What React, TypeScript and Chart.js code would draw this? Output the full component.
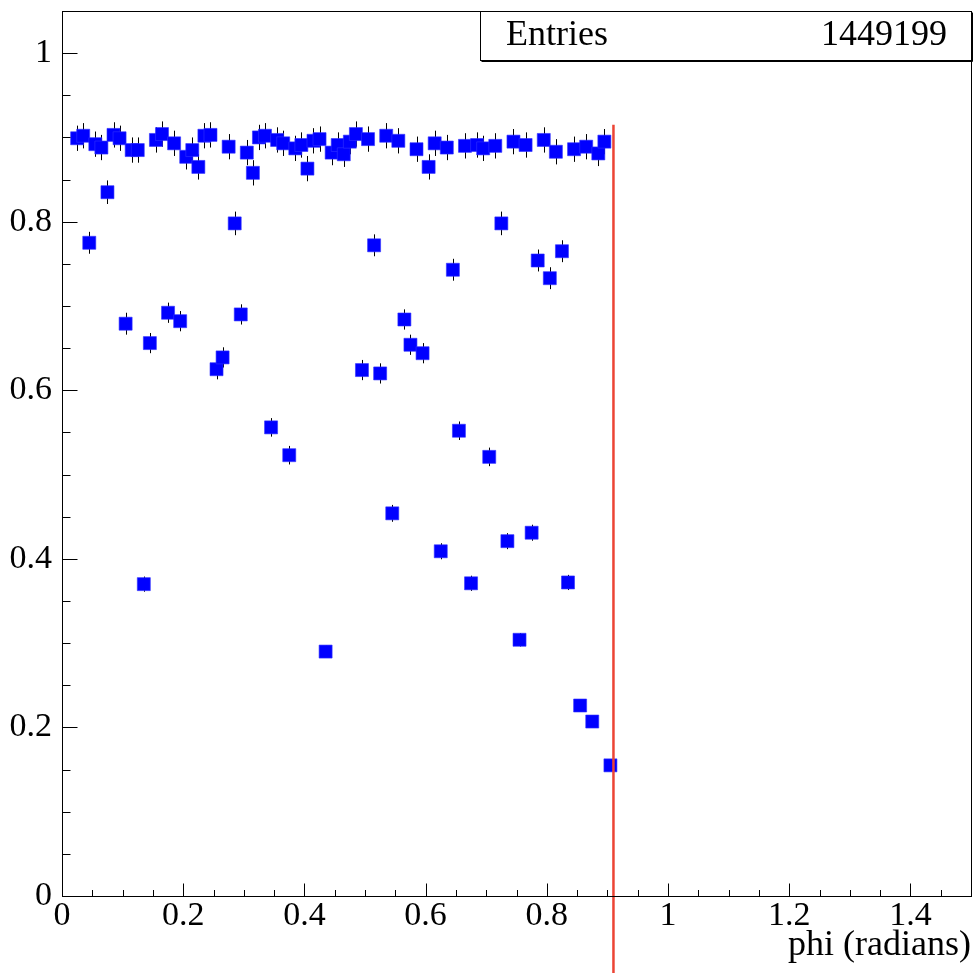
import React, { useEffect, useRef } from 'react';
import { Chart, registerables } from 'chart.js';

Chart.register(...registerables);

// ---- data ----
const phiBins = [
  0.025, 0.035, 0.045, 0.055, 0.065, 0.075, 0.085, 0.095, 0.105, 0.115,
  0.125, 0.135, 0.145, 0.155, 0.165, 0.175, 0.185, 0.195, 0.205, 0.215,
  0.225, 0.235, 0.245, 0.255, 0.265, 0.275, 0.285, 0.295, 0.305, 0.315,
  0.325, 0.335, 0.345, 0.355, 0.365, 0.375, 0.385, 0.395, 0.405, 0.415,
  0.425, 0.435, 0.445, 0.455, 0.465, 0.475, 0.485, 0.495, 0.505, 0.515,
  0.525, 0.535, 0.545, 0.555, 0.565, 0.575, 0.585, 0.595, 0.605, 0.615,
  0.625, 0.635, 0.645, 0.655, 0.665, 0.675, 0.685, 0.695, 0.705, 0.715,
  0.725, 0.735, 0.745, 0.755, 0.765, 0.775, 0.785, 0.795, 0.805, 0.815,
  0.825, 0.835, 0.845, 0.855, 0.865, 0.875, 0.885, 0.895, 0.905,
];

const efficiency = [
  0.899, 0.902, 0.775, 0.892, 0.888, 0.835, 0.903, 0.899, 0.679, 0.885,
  0.885, 0.370, 0.656, 0.897, 0.904, 0.692, 0.893, 0.682, 0.877, 0.885,
  0.865, 0.902, 0.903, 0.625, 0.639, 0.889, 0.798, 0.690, 0.882, 0.858,
  0.900, 0.902, 0.556, 0.897, 0.893, 0.523, 0.887, 0.891, 0.863, 0.896,
  0.898, 0.290, 0.882, 0.891, 0.880, 0.895, 0.904, 0.624, 0.898, 0.772,
  0.620, 0.902, 0.454, 0.896, 0.684, 0.654, 0.886, 0.644, 0.865, 0.893,
  0.409, 0.888, 0.743, 0.552, 0.890, 0.371, 0.891, 0.887, 0.521, 0.890,
  0.798, 0.421, 0.895, 0.304, 0.891, 0.431, 0.754, 0.897, 0.733, 0.883,
  0.765, 0.372, 0.886, 0.226, 0.889, 0.207, 0.881, 0.895, 0.155,
];

const efficiencyErr = [
  0.015, 0.015, 0.013, 0.015, 0.015, 0.014, 0.015, 0.015, 0.013, 0.015,
  0.015, 0.009, 0.012, 0.015, 0.015, 0.012, 0.015, 0.012, 0.015, 0.015,
  0.015, 0.015, 0.015, 0.012, 0.012, 0.015, 0.014, 0.012, 0.015, 0.015,
  0.015, 0.015, 0.011, 0.015, 0.015, 0.011, 0.015, 0.015, 0.015, 0.015,
  0.015, 0.007, 0.015, 0.015, 0.015, 0.015, 0.015, 0.012, 0.015, 0.013,
  0.012, 0.015, 0.010, 0.015, 0.012, 0.012, 0.015, 0.012, 0.015, 0.015,
  0.0095, 0.015, 0.013, 0.011, 0.015, 0.009, 0.015, 0.015, 0.011, 0.015,
  0.014, 0.0095, 0.015, 0.008, 0.015, 0.0095, 0.013, 0.015, 0.013, 0.015,
  0.013, 0.009, 0.015, 0.006, 0.015, 0.006, 0.015, 0.015, 0.005,
];

const xTickValues = [0, 0.2, 0.4, 0.6, 0.8, 1, 1.2, 1.4];
const xTickLabels = ['0', '0.2', '0.4', '0.6', '0.8', '1', '1.2', '1.4'];
const yTickValues = [0, 0.2, 0.4, 0.6, 0.8, 1];
const yTickLabels = ['0', '0.2', '0.4', '0.6', '0.8', '1'];
const xRange = [0, 1.5];
const yRange = [0, 1.05];
const minorStep = 0.05;

const xTitle = 'phi (radians)';
const statsLabel = 'Entries';
const statsValue = '1449199';

const cutPhi = 0.91;
const cutTop = 0.915;
const cutBottom = -0.2;

const FONT = '"Liberation Serif", "Times New Roman", Times, serif';

const rootStylePlugin = {
  id: 'rootStyle',
  beforeDraw(chart: any) {
    const ctx = chart.ctx;
    ctx.save();
    ctx.fillStyle = '#ffffff';
    ctx.fillRect(0, 0, chart.width, chart.height);
    ctx.restore();
  },
  beforeDatasetsDraw(chart: any) {
    const { ctx, scales } = chart;
    const x = scales.x;
    const y = scales.y;
    ctx.save();
    ctx.strokeStyle = '#000000';
    ctx.lineWidth = 1;
    phiBins.forEach((phi, i) => {
      const px = Math.round(x.getPixelForValue(phi)) + 0.5;
      const y1 = y.getPixelForValue(efficiency[i] - efficiencyErr[i]);
      const y2 = y.getPixelForValue(efficiency[i] + efficiencyErr[i]);
      ctx.beginPath();
      ctx.moveTo(px, y1);
      ctx.lineTo(px, y2);
      ctx.stroke();
    });
    ctx.restore();
  },
  afterDatasetsDraw(chart: any) {
    const { ctx, scales, chartArea } = chart;
    const x = scales.x;
    const y = scales.y;
    const L = Math.round(chartArea.left) + 0.5;
    const T = Math.round(chartArea.top) + 0.5;
    const R = Math.round(chartArea.right) + 0.5;
    const B = Math.round(chartArea.bottom) + 0.5;

    // red cut line
    ctx.save();
    ctx.strokeStyle = 'rgb(236, 68, 52)';
    ctx.lineWidth = 2.5;
    const cx = x.getPixelForValue(cutPhi);
    ctx.beginPath();
    ctx.moveTo(cx, y.getPixelForValue(cutTop));
    ctx.lineTo(cx, Math.min(chart.height, y.getPixelForValue(cutBottom)));
    ctx.stroke();
    ctx.restore();

    // frame
    ctx.save();
    ctx.strokeStyle = '#000000';
    ctx.lineWidth = 1;
    ctx.strokeRect(L, T, R - L, B - T);

    // y ticks (inward)
    const nY = Math.round((yRange[1] - yRange[0]) / minorStep);
    for (let k = 0; k <= nY; k++) {
      const v = yRange[0] + k * minorStep;
      if (v > yRange[1] + 1e-9) break;
      const major = yTickValues.some((t) => Math.abs(t - v) < 1e-6);
      const py = Math.round(y.getPixelForValue(v)) + 0.5;
      ctx.beginPath();
      ctx.moveTo(L, py);
      ctx.lineTo(L + (major ? 15 : 8), py);
      ctx.stroke();
    }
    // x ticks (inward)
    const nX = Math.round((xRange[1] - xRange[0]) / minorStep);
    for (let k = 0; k <= nX; k++) {
      const v = xRange[0] + k * minorStep;
      const major = xTickValues.some((t) => Math.abs(t - v) < 1e-6);
      const px = Math.round(x.getPixelForValue(v)) + 0.5;
      ctx.beginPath();
      ctx.moveTo(px, B);
      ctx.lineTo(px, B - (major ? 13 : 6.5));
      ctx.stroke();
    }
    ctx.restore();

    // stats box
    ctx.save();
    const bx1 = 480.5, by1 = T, bx2 = R, by2 = 60.5;
    ctx.fillStyle = '#ffffff';
    ctx.fillRect(bx1, by1, bx2 - bx1, by2 - by1);
    ctx.strokeStyle = '#000000';
    ctx.lineWidth = 1;
    ctx.strokeRect(bx1, by1, bx2 - bx1, by2 - by1);
    ctx.beginPath();
    ctx.moveTo(bx1 + 1, by2 + 1);
    ctx.lineTo(bx2 + 1, by2 + 1);
    ctx.lineTo(bx2 + 1, by1 + 1);
    ctx.stroke();
    ctx.fillStyle = '#000000';
    ctx.font = `36px ${FONT}`;
    ctx.textBaseline = 'middle';
    ctx.textAlign = 'left';
    ctx.fillText(statsLabel, 506, 36);
    ctx.textAlign = 'right';
    ctx.fillText(statsValue, 947, 36);
    ctx.restore();
  },
};

export default function App() {
  const canvasRef = useRef<HTMLCanvasElement | null>(null);

  useEffect(() => {
    if (!canvasRef.current) return;
    const chart = new Chart(canvasRef.current, {
      type: 'scatter',
      data: {
        datasets: [
          {
            label: 'efficiency',
            data: phiBins.map((phi, i) => ({ x: phi, y: efficiency[i] })),
            showLine: false,
            pointStyle: 'rect',
            pointRadius: 9.2,
            pointHoverRadius: 9.2,
            backgroundColor: '#0000ff',
            borderColor: '#3030ff',
            borderWidth: 0.6,
          },
        ],
      },
      options: {
        animation: false,
        responsive: false,
        maintainAspectRatio: false,
        devicePixelRatio: 1,
        events: [],
        layout: { autoPadding: false, padding: { left: 0, right: 3, top: 11, bottom: 0 } },
        plugins: {
          legend: { display: false },
          tooltip: { enabled: false },
          title: { display: false },
        },
        scales: {
          x: {
            type: 'linear',
            min: xRange[0],
            max: xRange[1],
            afterBuildTicks: (s: any) => {
              s.ticks = xTickValues.map((v) => ({ value: v }));
            },
            afterFit: (s: any) => {
              s.height = 77;
              s.paddingLeft = 0;
              s.paddingRight = 0;
              s.paddingTop = 0;
              s.paddingBottom = 0;
            },
            grid: { display: false, drawTicks: false },
            border: { display: false },
            ticks: {
              autoSkip: false,
              maxRotation: 0,
              minRotation: 0,
              padding: 0,
              color: '#000000',
              font: { family: FONT, size: 34 },
              callback: (_v: any, i: number) => xTickLabels[i],
            },
            title: {
              display: true,
              text: xTitle,
              align: 'end',
              color: '#000000',
              font: { family: FONT, size: 36 },
              padding: { top: 0, bottom: 6 },
            },
          },
          y: {
            type: 'linear',
            min: yRange[0],
            max: yRange[1],
            afterBuildTicks: (s: any) => {
              s.ticks = yTickValues.map((v) => ({ value: v }));
            },
            afterFit: (s: any) => {
              s.width = 62;
              s.paddingLeft = 0;
              s.paddingRight = 0;
              s.paddingTop = 0;
              s.paddingBottom = 0;
            },
            grid: { display: false, drawTicks: false },
            border: { display: false },
            ticks: {
              autoSkip: false,
              padding: 10,
              color: '#000000',
              font: { family: FONT, size: 34 },
              callback: (_v: any, i: number) => yTickLabels[i],
            },
          },
        },
      },
      plugins: [rootStylePlugin],
    } as any);
    return () => chart.destroy();
  }, []);

  return (
    <div style={{ position: 'fixed', left: 0, top: 0, width: 974, height: 973, background: '#fff' }}>
      <canvas ref={canvasRef} width={974} height={973} style={{ display: 'block', width: 974, height: 973 }} />
    </div>
  );
}
